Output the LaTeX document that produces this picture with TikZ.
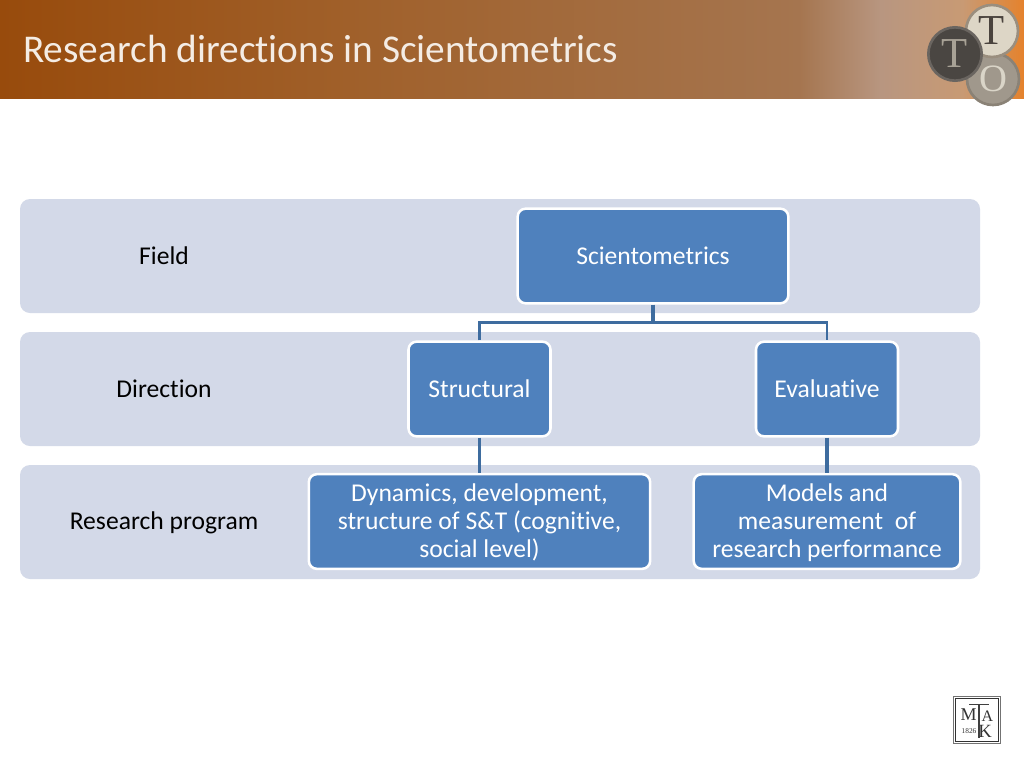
\documentclass[tikz,border=0pt]{standalone}
\usepackage{fontspec}
\setmainfont[Ligatures=NoCommon]{Carlito}
\newfontfamily\logofont{Liberation Serif}
\usetikzlibrary{calc}
\definecolor{band}{HTML}{D3D9E8}
\definecolor{boxfill}{HTML}{4F81BD}
\definecolor{link}{HTML}{3E6C9F}
\definecolor{hL}{HTML}{984B0C}
\definecolor{hA}{HTML}{A0602A}
\definecolor{hB}{HTML}{A5754F}
\definecolor{hC}{HTML}{B89680}
\definecolor{hD}{HTML}{C89A74}
\definecolor{hR}{HTML}{E5822C}
\definecolor{coinOf}{HTML}{A0988C}
\definecolor{coinOd}{HTML}{8A8276}
\definecolor{coinOt}{HTML}{DAD5C8}
\definecolor{coinTf}{HTML}{DDD6C6}
\definecolor{coinTd}{HTML}{9A8E7E}
\definecolor{coinTt}{HTML}{4A433D}
\definecolor{coinDf}{HTML}{4A4642}
\definecolor{coinDd}{HTML}{6A6560}
\definecolor{coinDt}{HTML}{A8A296}
\definecolor{titlecol}{HTML}{F4ECE4}
\pgfdeclarehorizontalshading{hdr}{100bp}{
 color(0bp)=(hL); color(25bp)=(hL); color(42bp)=(hA); color(64bp)=(hB); color(68bp)=(hC); color(72bp)=(hD); color(75bp)=(hR); color(100bp)=(hR)}
\tikzset{
 x=0.75pt,y=-0.75pt,
 bandbox/.style={fill=band,draw=none,rounded corners=7.5pt},
 orgbox/.style={fill=boxfill,draw=white,line width=1.9pt,rounded corners=6pt,text=white,align=center,font=\fontsize{19.2}{21}\selectfont,inner sep=0pt},
 rowlabel/.style={text=black,font=\fontsize{19.2}{21}\selectfont,inner sep=0pt},
 connector/.style={draw=link,line width=2.3pt},
 coin/.style={circle,inner sep=0pt},
 emblemtext/.style={inner sep=0pt,text=black!80,font=\logofont\fontsize{#1}{#1}\selectfont},
}
\begin{document}
\begin{tikzpicture}
\useasboundingbox (0,0) rectangle (1024,768);
\fill[white] (0,0) rectangle (1024,768);
\shade[shading=hdr] (0,0) rectangle (1024,98.5);
\node[anchor=west,text=titlecol,inner sep=0pt,font=\fontsize{29.5}{34}\selectfont] (title) at (23,49) {Research directions in Scientometrics};
% logo
\node[coin,minimum size=39pt,fill=coinOf,draw=coinOd,line width=2pt,text=coinOt,font=\logofont\fontsize{29}{29}\selectfont] (coinb) at (993,79) {O};
\node[coin,minimum size=39pt,fill=coinTf,draw=coinTd,line width=2pt,text=coinTt,font=\logofont\fontsize{32}{32}\selectfont] (coint) at (992,31) {T};
\node[coin,minimum size=40pt,fill=coinDf,draw=coinDd,line width=2pt,text=coinDt,font=\logofont\fontsize{32}{32}\selectfont] (coind) at (955,54) {T};
% bands
\fill[bandbox] (20,199) rectangle (980,313);
\fill[bandbox] (20,332) rectangle (980,446);
\fill[bandbox] (20,465) rectangle (980,579);
% row labels
\node[rowlabel] (field) at (164,255.5) {Field};
\node[rowlabel] (direction) at (164,388.5) {Direction};
\node[rowlabel] (program) at (164,522.5) {Research program};
% boxes
\node[orgbox,minimum width=203pt,minimum height=71pt] (sci) at (653,256) {Scientometrics};
\node[orgbox,minimum width=106.5pt,minimum height=71pt] (str) at (479.5,389) {Structural};
\node[orgbox,minimum width=106.5pt,minimum height=71pt] (eva) at (827,389) {Evaluative};
\node[orgbox,minimum width=256pt,minimum height=71pt] (dyn) at (479.5,521.5) {\rule{0pt}{15pt}Dynamics, development,\\structure of S\&T (cognitive,\\social level)};
\node[orgbox,minimum width=200pt,minimum height=71pt] (mod) at (827,521.5) {\rule{0pt}{15pt}Models and\\measurement\ \ of\\research performance};
% connectors
\coordinate (bus) at (653,322.5);
\draw[connector] (sci.south) -- (bus);
\draw[connector,line width=1.6pt] (str.north) -- (str.north |- bus) -- (eva.north |- bus) -- (eva.north);
\draw[connector] (str.south) -- (dyn.north);
\draw[connector] (eva.south) -- (mod.north);
% MTA emblem
\node[draw=black!55,line width=0.5pt,fill=white,minimum size=35pt,inner sep=0pt] (emblem) at (977,720) {};
\node[draw=black!80,line width=0.8pt,minimum size=32pt,inner sep=0pt] (emblemin) at (977,720) {};
\node[emblemtext=13.5] (m) at (968.5,714.5) {M};
\node[emblemtext=12] (a) at (987.5,716) {A};
\node[emblemtext=14] (k) at (985,731.5) {K};
\node[emblemtext=5.5] (year) at (969,731) {1826};
\coordinate (tl) at (969,704); \coordinate (tr) at (989,704); \coordinate (ts) at (979,704); \coordinate (tb) at (979,738);
\draw[black!75,line width=0.6pt] (tl) -- (tr);
\draw[black!75,line width=0.8pt] (ts) -- (tb);
\end{tikzpicture}
\end{document}
